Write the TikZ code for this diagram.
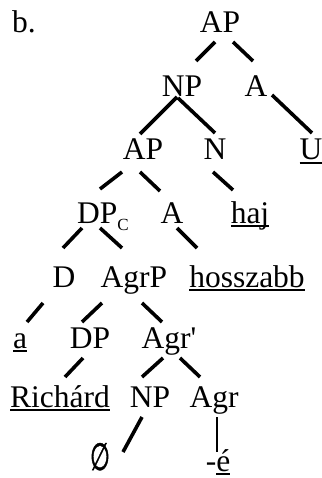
\documentclass[tikz,border=0pt]{standalone}
\usepackage{fontspec}
\setmainfont{Liberation Serif}
\newfontfamily\emptysetfont[FakeStretch=0.6, FakeBold=1.2]{DejaVu Sans}
\usepackage{tikz}
\usetikzlibrary{positioning}

% underline that stays near the baseline (descenders cut through it)
\newcommand\ulword[1]{\setbox0\hbox{#1}\rlap{\rule[-3.6pt]{\wd0}{1.8pt}}\box0}

\tikzset{
  every node/.append style={font=\fontsize{31.5}{36}\selectfont, inner sep=0pt},
  branch/.style={line width=3.6pt},
}

\begin{document}
\begin{tikzpicture}[
  x=1pt, y=-1pt,
  cat/.style={anchor=base},
  word/.style={anchor=base},
]
\useasboundingbox (0,0) rectangle (321,478);

% --- Example number ---
\node[anchor=base west] (exno) at (12,33) {b.};

% --- Nodes, row by row (x = centre, y = baseline) ---
\node[cat] (ap1) at (220,33) {AP};

\node[cat] (np1) at (182,97) {NP};
\node[cat] (a1) at (256,97) {A};

\node[cat] (ap2) at (143,160) {AP};
\node[cat] (n1) at (215,160) {N};
\node[word] (u) at (311,160) {\ulword{U}};

\node[cat, anchor=base west] (dpc) at (77,223) {DP\raisebox{-7pt}{\fontsize{17}{17}\selectfont C}};
\node[cat] (a2) at (172,223) {A};
\node[word] (haj) at (250,223) {\ulword{haj}};

\node[cat] (d) at (64,287) {D};
\node[cat] (agrp) at (134,287) {AgrP};
\node[word] (hoss) at (247,287) {\ulword{hosszabb}};

\node[word] (a3) at (20,348) {\ulword{a}};
\node[cat] (dp2) at (90,348) {DP};
\node[cat] (agrbar) at (169,348) {Agr\textquotesingle};

\node[word] (rich) at (60,407) {\ulword{Richárd}};
\node[cat] (np2) at (150,407) {NP};
\node[cat] (agr) at (214,407) {Agr};

\node[word] (empty) at (100,470) {\emptysetfont\fontsize{38}{42}\selectfont ∅};
\node[word] (e) at (218,471) {-\ulword{é}};

% --- Branches ---
\draw[branch] ([shift={(-5,9)}]ap1.base) -- ([shift={(14,-36)}]np1.base);
\draw[branch] ([shift={(13,9)}]ap1.base) -- ([shift={(-3,-36)}]a1.base);

\draw[branch] ([shift={(-5,0)}]np1.base) -- ([shift={(-3,-26)}]ap2.base);
\draw[branch] ([shift={(-4,1)}]np1.base) -- ([shift={(0,-27)}]n1.base);
\draw[branch] ([shift={(16,-2)}]a1.base) -- ([shift={(1,-27)}]u.base);

\draw[branch] ([shift={(-21,12)}]ap2.base) -- ([shift={(23,-34)}]dpc.base west);
\draw[branch] ([shift={(-3,12)}]ap2.base) -- ([shift={(-12,-32)}]a2.base);
\draw[branch] ([shift={(-2,12)}]n1.base) -- ([shift={(-17,-33)}]haj.base);

\draw[branch] ([shift={(5,5)}]dpc.base west) -- ([shift={(-1,-39)}]d.base);
\draw[branch] ([shift={(23,5)}]dpc.base west) -- ([shift={(-12,-39)}]agrp.base);
\draw[branch] ([shift={(5,5)}]a2.base) -- ([shift={(-50,-39)}]hoss.base);

\draw[branch] ([shift={(-21,16)}]d.base) -- ([shift={(7,-26)}]a3.base);
\draw[branch] ([shift={(-32,16)}]agrp.base) -- ([shift={(-8,-26)}]dp2.base);
\draw[branch] ([shift={(8,16)}]agrp.base) -- ([shift={(-7,-26)}]agrbar.base);

\draw[branch] ([shift={(-7,10)}]dp2.base) -- ([shift={(5,-30)}]rich.base);
\draw[branch] ([shift={(-6,10)}]agrbar.base) -- ([shift={(-8,-30)}]np2.base);
\draw[branch] ([shift={(11,10)}]agrbar.base) -- ([shift={(-14,-30)}]agr.base);

\draw[branch] ([shift={(-8,10)}]np2.base) -- ([shift={(23,-18)}]empty.base);
\draw[branch, line width=2.4pt] ([shift={(3,10)}]agr.base) -- ([shift={(-1,-19)}]e.base);

\end{tikzpicture}
\end{document}
